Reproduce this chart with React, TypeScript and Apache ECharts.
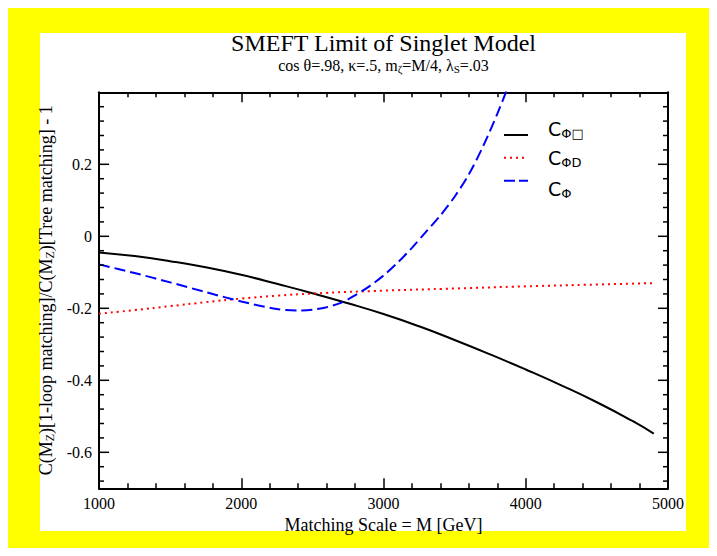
import React, { useEffect, useRef } from "react";
import * as echarts from "echarts";

// ---- axis ranges & ticks ----
const X_MIN = 1000;
const X_MAX = 5000;
const Y_MIN = -0.7;
const Y_MAX = 0.4;
const X_TICKS = [1000, 2000, 3000, 4000, 5000];
const Y_TICKS = [-0.6, -0.4, -0.2, 0, 0.2];
const Y_MINOR_STEP = 0.04;

// ---- texts ----
const TITLE = "SMEFT Limit of Singlet Model";
const SUBTITLE = "{n|cos θ=.98, κ=.5, m}{s|ζ}{n|=M/4, λ}{s|S}{n|=.03}";
const X_NAME = "Matching Scale = M [GeV]";
const Y_NAME = "{n|C(M}{s|Z}{n|)[1-loop matching]/C(M}{s|Z}{n|)[Tree matching] - 1}";
const LEGEND_NAMES = ["CΦ□", "CΦD", "CΦ"];
const LEGEND_SUBS = ["Φ□", "ΦD", "Φ"];

// ---- series data ----
const M_BOX = [1000, 1250, 1500, 1750, 2000, 2250, 2500, 2750, 3000, 3250, 3500, 3750, 4000, 4250, 4500, 4750, 4900];
const C_PHI_BOX = [-0.045, -0.055, -0.069, -0.086, -0.107, -0.132, -0.158, -0.186, -0.216, -0.25, -0.288, -0.328, -0.37, -0.414, -0.461, -0.513, -0.548];

const M_D = [1000, 1250, 1500, 1750, 2000, 2250, 2500, 3000, 3500, 4000, 4500, 4900];
const C_PHI_D = [-0.215, -0.205, -0.194, -0.183, -0.173, -0.165, -0.159, -0.151, -0.145, -0.139, -0.134, -0.13];

const M_PHI = [1000, 1250, 1500, 1750, 2000, 2250, 2400, 2500, 2600, 2700, 2800, 2900, 3000, 3100, 3200, 3300, 3400, 3500, 3600, 3700, 3800, 3900];
const C_PHI = [-0.078, -0.102, -0.128, -0.155, -0.181, -0.202, -0.206, -0.204, -0.197, -0.185, -0.164, -0.139, -0.109, -0.073, -0.032, 0.013, 0.058, 0.11, 0.172, 0.25, 0.34, 0.44];

const SERIF = "Liberation Serif";
const SANS = "DejaVu Sans";

const zip = (xs: number[], ys: number[]) => xs.map((x, i) => [x, ys[i]]);
const isMajorY = (v: number) => Y_TICKS.some((t) => Math.abs(t - v) < 1e-6);

// tick positions of the y minor grid (every 0.04, below the top edge)
const yTickValues: number[] = [];
for (let k = Math.ceil(Y_MIN / Y_MINOR_STEP - 1e-9); k * Y_MINOR_STEP < Y_MAX - 1e-9; k++) {
  yTickValues.push(Math.round(k * Y_MINOR_STEP * 1000) / 1000);
}

function buildOption() {
  const axisLine = { show: true, onZero: false, lineStyle: { color: "#000", width: 2 } };
  const tickStyle = { color: "#000", width: 1.5 };
  const legendY = [127, 149.7, 172.7];
  const legendTextY = [121, 150, 181];
  const legendStyles = [
    { stroke: "#000", lineWidth: 2 },
    { stroke: "#ff0000", lineWidth: 2, lineDash: [2, 4] },
    { stroke: "#0000ff", lineWidth: 2, lineDash: [11, 4] },
  ];
  const graphic: any[] = [
    {
      type: "text",
      x: 375.5,
      y: 35,
      style: {
        text: TITLE,
        font: `24px "${SERIF}"`,
        fill: "#000",
        textAlign: "center",
        textVerticalAlign: "middle",
      },
    },
    {
      type: "text",
      x: 375.5,
      y: 57,
      style: {
        text: SUBTITLE,
        textAlign: "center",
        textVerticalAlign: "middle",
        rich: {
          n: { fontFamily: SERIF, fontSize: 16, color: "#000", lineHeight: 18 },
          s: { fontFamily: SERIF, fontSize: 11, color: "#000", verticalAlign: "bottom", lineHeight: 8 },
        },
      },
    },
  ];
  LEGEND_NAMES.forEach((_name, i) => {
    graphic.push({
      type: "line",
      shape: { x1: 496, y1: legendY[i], x2: 520, y2: legendY[i] },
      style: legendStyles[i],
    });
    graphic.push({
      type: "text",
      x: 540,
      y: legendTextY[i],
      style: {
        text: `{c|C}{s|${LEGEND_SUBS[i]}}`,
        textAlign: "left",
        textVerticalAlign: "middle",
        rich: {
          c: { fontFamily: SANS, fontSize: 19, color: "#000", lineHeight: 22 },
          s: { fontFamily: SANS, fontSize: 13, color: "#000", verticalAlign: "bottom", lineHeight: 14 },
        },
      },
    });
  });

  const xAxisBase = {
    type: "value",
    min: X_MIN,
    max: X_MAX,
    interval: 1000,
    axisLine,
    axisTick: { show: true, inside: true, length: 10, lineStyle: tickStyle },
    minorTick: { show: true, splitNumber: 5, length: 5, lineStyle: tickStyle },
    splitLine: { show: false },
    minorSplitLine: { show: false },
  };
  const yAxisBase = {
    type: "value",
    min: Y_MIN,
    max: Y_MAX,
    interval: 0.1,
    axisLine,
    axisTick: { show: false },
    splitLine: { show: false },
  };

  return {
    animation: false,
    backgroundColor: "transparent",
    grid: { left: 91, right: 41, top: 84.3, bottom: 59.7 },
    graphic,
    xAxis: [
      {
        ...xAxisBase,
        position: "bottom",
        axisLabel: {
          show: true,
          margin: 7,
          fontFamily: SERIF,
          fontSize: 16,
          color: "#000",
          formatter: (v: number) => (X_TICKS.includes(v) ? String(v) : ""),
        },
        name: X_NAME,
        nameLocation: "middle",
        nameGap: 24,
        nameTextStyle: { fontFamily: SERIF, fontSize: 18, color: "#000" },
      },
      { ...xAxisBase, position: "top", axisLabel: { show: false } },
    ],
    yAxis: [
      {
        ...yAxisBase,
        position: "left",
        axisLabel: {
          show: true,
          margin: 7,
          fontFamily: SERIF,
          fontSize: 16,
          color: "#000",
          formatter: (v: number) => {
            if (!isMajorY(v)) return "";
            const r = Math.round(v * 10) / 10;
            return r === 0 ? "0" : String(r);
          },
        },
        name: Y_NAME,
        nameLocation: "middle",
        nameGap: 42,
        nameTextStyle: {
          rich: {
            n: { fontFamily: SERIF, fontSize: 18, color: "#000", lineHeight: 20 },
            s: { fontFamily: SERIF, fontSize: 12, color: "#000", verticalAlign: "bottom", lineHeight: 9 },
          },
        },
      },
      { ...yAxisBase, position: "right", axisLabel: { show: false } },
    ],
    series: [
      {
        name: LEGEND_NAMES[0],
        type: "line",
        data: zip(M_BOX, C_PHI_BOX),
        smooth: true,
        showSymbol: false,
        lineStyle: { color: "#000", width: 2 },
        z: 3,
      },
      {
        name: LEGEND_NAMES[1],
        type: "line",
        data: zip(M_D, C_PHI_D),
        smooth: true,
        showSymbol: false,
        lineStyle: { color: "#ff0000", width: 2, type: [2, 4] },
        z: 3,
      },
      {
        name: LEGEND_NAMES[2],
        type: "line",
        data: zip(M_PHI, C_PHI),
        smooth: 0.3,
        showSymbol: false,
        clip: true,
        lineStyle: { color: "#0000ff", width: 2, type: [11, 5] },
        z: 3,
      },
      {
        type: "custom",
        silent: true,
        clip: false,
        data: yTickValues.map((v) => [X_MIN, v]),
        renderItem: (_params: any, api: any) => {
          const v = api.value(1);
          const len = isMajorY(v) ? 10 : 5;
          const pl = api.coord([X_MIN, v]);
          const pr = api.coord([X_MAX, v]);
          const style = { stroke: "#000", lineWidth: 1.5 };
          return {
            type: "group",
            children: [
              { type: "line", shape: { x1: pl[0], y1: pl[1], x2: pl[0] + len, y2: pl[1] }, style },
              { type: "line", shape: { x1: pr[0], y1: pr[1], x2: pr[0] - len, y2: pr[1] }, style },
            ],
          };
        },
        z: 4,
      },
    ],
  };
}

export default function App() {
  const ref = useRef<HTMLDivElement>(null);
  useEffect(() => {
    if (!ref.current) return;
    const chart = echarts.init(ref.current, undefined, { renderer: "svg" });
    chart.setOption(buildOption() as any);
    return () => chart.dispose();
  }, []);
  return (
    <div style={{ position: "relative", width: 701, height: 540, background: "#ffff00" }}>
      <div style={{ position: "absolute", left: 32, top: 25, width: 646, height: 498, background: "#ffffff" }} />
      <div ref={ref} style={{ position: "absolute", left: 0, top: 0, width: 701, height: 540 }} />
    </div>
  );
}
